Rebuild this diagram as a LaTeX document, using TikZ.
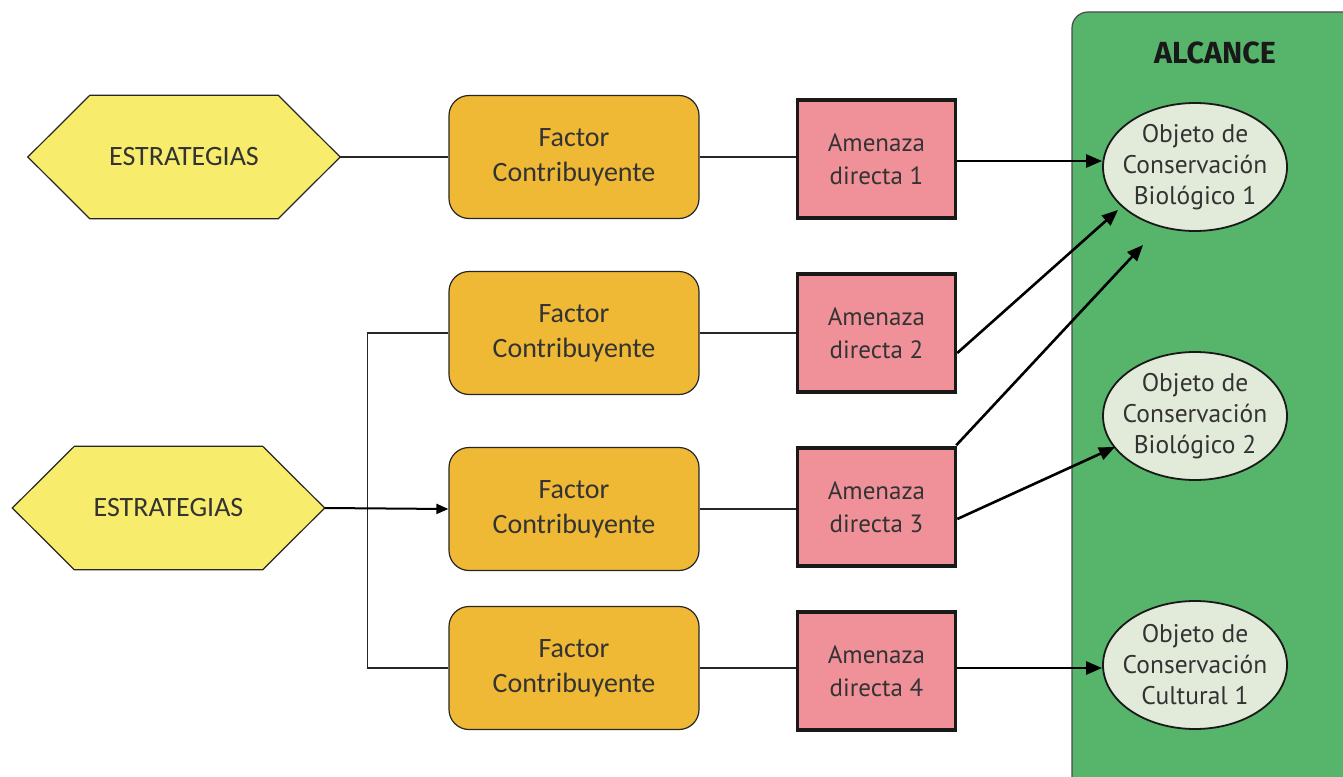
\documentclass[tikz,border=0pt]{standalone}
\usepackage{fontspec}
\setmainfont{Carlito}
\newfontfamily\amfont{PT Sans}
\newfontfamily\alfont{Fira Sans}
\usetikzlibrary{arrows.meta,shapes.geometric,backgrounds,calc}
\definecolor{hexfill}{HTML}{F8EC6C}
\definecolor{facfill}{HTML}{F0B935}
\definecolor{amfill}{HTML}{F0919A}
\definecolor{panelfill}{HTML}{56B46B}
\definecolor{objfill}{HTML}{E2EAD9}
\definecolor{txt}{HTML}{333333}
\tikzset{
  hexnode/.style={minimum width=312pt, minimum height=123pt, inner sep=0pt, text=txt,
    font=\fontsize{28}{32}\selectfont},
  hexpath/.style={draw=black!85, line width=1.2pt, fill=hexfill},
  facbox/.style={draw=black!85, line width=1.2pt, fill=facfill, rounded corners=20pt,
    minimum width=250pt, minimum height=123pt, align=center, text=txt,
    font=\fontsize{28}{35}\selectfont},
  ambox/.style={draw=black!90, line width=3.5pt, fill=amfill, minimum width=158pt,
    minimum height=118pt, align=center, text=txt, font=\amfont\fontsize{25}{33}\selectfont},
  objell/.style={ellipse, draw=black!90, line width=1.8pt, fill=objfill, minimum width=184pt,
    minimum height=128pt, inner sep=0pt},
  objtext/.style={align=center, text=txt, inner sep=0pt,
    font=\amfont\fontsize{25.5}{31}\selectfont},
  plain/.style={draw=black!85, line width=1.3pt},
  arr/.style={draw=black, line width=2.6pt, -{Triangle[length=16pt,width=13pt]}},
  arrthin/.style={draw=black, line width=2pt, -{Triangle[length=12pt,width=10pt]}},
}
\begin{document}
\begin{tikzpicture}[x=1pt,y=-1pt]
\useasboundingbox (0,0) rectangle (1343,776);
% panel
\draw[draw=black!70, line width=1.2pt, fill=panelfill, rounded corners=16pt] (1072,12) rectangle (1400,830);
\node[font=\alfont\bfseries\fontsize{30.5}{34}\selectfont, text=black!90] (alc) at (1215,53) {ALCANCE};
% hexagons
\node[hexnode] (s1) at (184,157) {ESTRATEGIAS};
\node[hexnode] (s2) at (168.5,508) {ESTRATEGIAS};
\begin{scope}[on background layer]
\foreach \h in {s1,s2}{
  \draw[hexpath] (\h.west) -- ([xshift=62pt]\h.north west) -- ([xshift=-62pt]\h.north east) -- (\h.east)
    -- ([xshift=-62pt]\h.south east) -- ([xshift=62pt]\h.south west) -- cycle;
}
\end{scope}
% factor boxes
\node[facbox] (f1) at (574,157) {Factor\\Contribuyente};
\node[facbox] (f2) at (574,333) {Factor\\Contribuyente};
\node[facbox] (f3) at (574,509) {Factor\\Contribuyente};
\node[facbox] (f4) at (574,668) {Factor\\Contribuyente};
% amenaza boxes
\node[ambox] (a1) at (876.5,159) {Amenaza\\directa 1};
\node[ambox] (a2) at (876.5,333) {Amenaza\\directa 2};
\node[ambox] (a3) at (876.5,507) {Amenaza\\directa 3};
\node[ambox] (a4) at (876.5,671) {Amenaza\\directa 4};
% objects
\node[objell, label={[objtext]center:Objeto de\\Conservación\\Biológico 1}] (o1) at (1195,167) {};
\node[objell, label={[objtext]center:Objeto de\\Conservación\\Biológico 2}] (o2) at (1195,416) {};
\node[objell, label={[objtext]center:Objeto de\\Conservación\\Cultural 1}] (o3) at (1195,665) {};
% connectors
\draw[plain] (s1.east) -- (f1.west);
\draw[plain] (f1.east) -- (f1.east -| a1.west);
\draw[plain] (f2.east) -- (f2.east -| a2.west);
\draw[plain] (f3.east) -- (f3.east -| a3.west);
\draw[plain] (f4.east) -- (f4.east -| a4.west);
\draw[plain] (f2.west) -- ++(-81,0) |- (f4.west);
\draw[arrthin] (s2.east) -- (f3.west);
\draw[arr] ([yshift=-2pt]a1.east) -- ([yshift=-2pt]a1.east -| o1.west);
\draw[arr] ([yshift=-20pt]a2.east) -- ($(o1.center)+(-77,43)$);
\draw[arr] ([xshift=-1pt,yshift=1pt]a3.north east) -- ($(o1.center)+(-52,78)$);
\draw[arr] ([yshift=-12pt]a3.east) -- ($(o2.center)+(-80,31)$);
\draw[arr] ([yshift=3pt]a4.east) -- ([yshift=3pt]a4.east -| o3.west);
\end{tikzpicture}
\end{document}
